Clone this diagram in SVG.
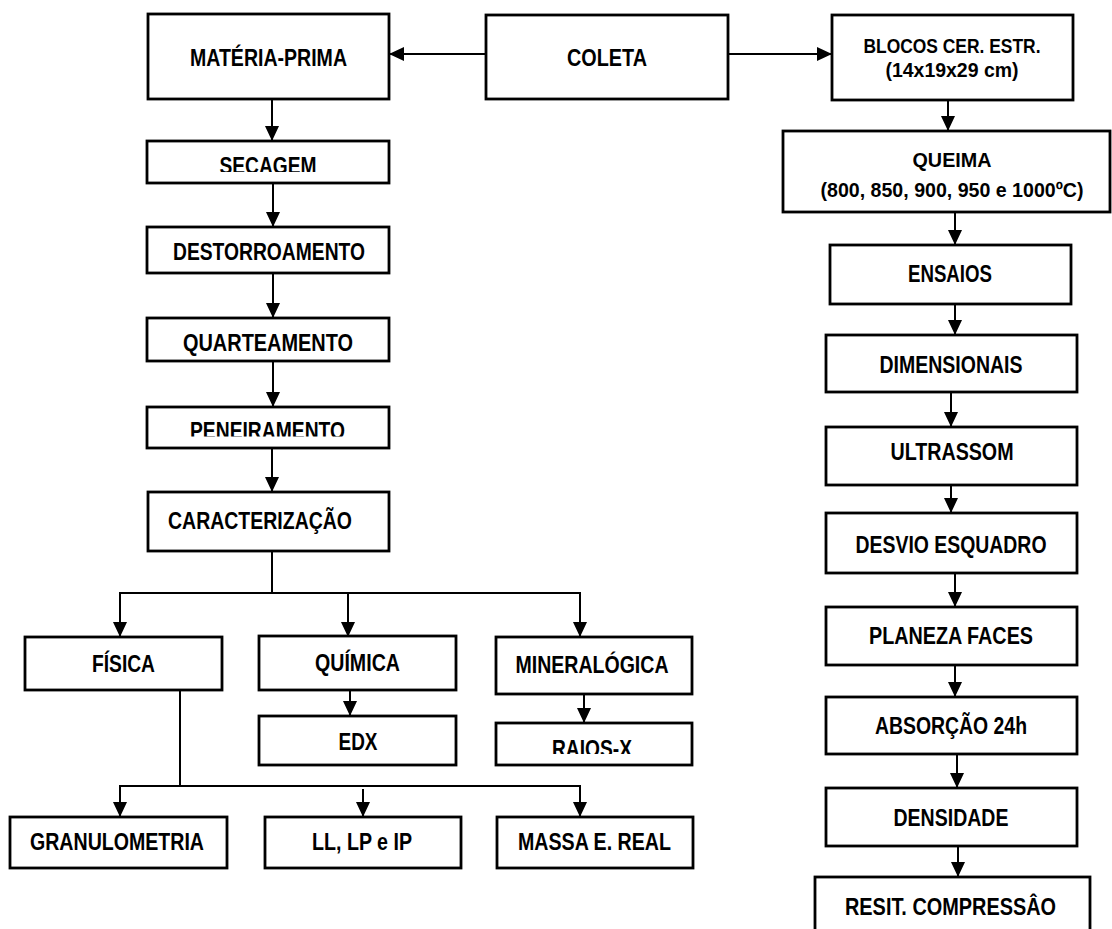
<svg xmlns="http://www.w3.org/2000/svg" width="1112" height="929" viewBox="0 0 1112 929">
<style>
.b{fill:#fff;stroke:#000;stroke-width:2.8}
.t{font-family:"Liberation Sans Narrow","Liberation Sans",Arial,sans-serif;font-weight:bold;font-size:23px;fill:#000;text-anchor:middle}
.s{font-size:21px}
.c{fill:none;stroke:#000;stroke-width:2}
</style>
<defs>
<marker id="ah" markerUnits="userSpaceOnUse" markerWidth="16" markerHeight="16" refX="15" refY="7.5" orient="auto">
<path d="M0,0.5 L15,7.5 L0,14.5 z" fill="#000"/>
</marker>
<clipPath id="cSec"><rect x="140" y="140" width="260" height="32"/></clipPath>
<clipPath id="cPen"><rect x="140" y="405" width="260" height="31.5"/></clipPath>
<clipPath id="cRai"><rect x="490" y="720" width="210" height="34"/></clipPath>
</defs>
<rect width="1112" height="929" fill="#fff"/>

<g id="connectors">
<line class="c" x1="486" y1="54" x2="389" y2="54" marker-end="url(#ah)"/>
<line class="c" x1="728" y1="54" x2="832" y2="54" marker-end="url(#ah)"/>
<line class="c" x1="272" y1="99" x2="272" y2="141" marker-end="url(#ah)"/>
<line class="c" x1="273" y1="183" x2="273" y2="227" marker-end="url(#ah)"/>
<line class="c" x1="273" y1="273" x2="273" y2="318" marker-end="url(#ah)"/>
<line class="c" x1="273" y1="361" x2="273" y2="407" marker-end="url(#ah)"/>
<line class="c" x1="272" y1="448" x2="272" y2="492" marker-end="url(#ah)"/>
<polyline class="c" points="272,551 272,593"/>
<line class="c" x1="119" y1="593" x2="581" y2="593"/>
<line class="c" x1="120" y1="593" x2="120" y2="637" marker-end="url(#ah)"/>
<line class="c" x1="348" y1="593" x2="348" y2="637" marker-end="url(#ah)"/>
<line class="c" x1="580" y1="593" x2="580" y2="637" marker-end="url(#ah)"/>
<line class="c" x1="350" y1="690" x2="350" y2="716" marker-end="url(#ah)"/>
<line class="c" x1="584" y1="694" x2="584" y2="723" marker-end="url(#ah)"/>
<polyline class="c" points="180,690 180,786"/>
<line class="c" x1="119" y1="786" x2="581" y2="786"/>
<line class="c" x1="120" y1="786" x2="120" y2="817" marker-end="url(#ah)"/>
<line class="c" x1="363" y1="789" x2="363" y2="817" marker-end="url(#ah)"/>
<line class="c" x1="580" y1="786" x2="580" y2="817" marker-end="url(#ah)"/>
<line class="c" x1="948" y1="100" x2="948" y2="131" marker-end="url(#ah)"/>
<line class="c" x1="955" y1="212" x2="955" y2="245" marker-end="url(#ah)"/>
<line class="c" x1="955" y1="304" x2="955" y2="335" marker-end="url(#ah)"/>
<line class="c" x1="951" y1="392" x2="951" y2="427" marker-end="url(#ah)"/>
<line class="c" x1="951" y1="485" x2="951" y2="513" marker-end="url(#ah)"/>
<line class="c" x1="955" y1="573" x2="955" y2="607" marker-end="url(#ah)"/>
<line class="c" x1="955" y1="665" x2="955" y2="697" marker-end="url(#ah)"/>
<line class="c" x1="957" y1="754" x2="957" y2="788" marker-end="url(#ah)"/>
<line class="c" x1="958" y1="846" x2="958" y2="877" marker-end="url(#ah)"/>
</g>

<g id="materia-prima"><rect class="b" x="148" y="14" width="241" height="85"/><text class="t" x="268.5" y="66" textLength="157" lengthAdjust="spacingAndGlyphs">MATÉRIA-PRIMA</text></g>
<g id="coleta"><rect class="b" x="486" y="15" width="242" height="84"/><text class="t" x="607" y="66" textLength="80" lengthAdjust="spacingAndGlyphs">COLETA</text></g>
<g id="blocos"><rect class="b" x="832" y="15" width="241" height="85"/><text class="t s" x="952" y="53" textLength="177" lengthAdjust="spacingAndGlyphs">BLOCOS CER. ESTR.</text><text class="t s" x="952" y="77" textLength="133" lengthAdjust="spacingAndGlyphs">(14x19x29 cm)</text></g>
<g id="queima"><rect class="b" x="783" y="131" width="327" height="81"/><text class="t s" x="952" y="167" textLength="79" lengthAdjust="spacingAndGlyphs">QUEIMA</text><text class="t s" x="952" y="197" textLength="263" lengthAdjust="spacingAndGlyphs">(800, 850, 900, 950 e 1000ºC)</text></g>

<g id="secagem"><rect class="b" x="147" y="141" width="242" height="42"/><text class="t" x="268" y="173.5" textLength="97" lengthAdjust="spacingAndGlyphs" clip-path="url(#cSec)">SECAGEM</text></g>
<g id="destorroamento"><rect class="b" x="147" y="227" width="242" height="46"/><text class="t" x="269" y="260" textLength="192" lengthAdjust="spacingAndGlyphs">DESTORROAMENTO</text></g>
<g id="quarteamento"><rect class="b" x="147" y="318" width="242" height="43"/><text class="t" x="268" y="350.5" textLength="170" lengthAdjust="spacingAndGlyphs">QUARTEAMENTO</text></g>
<g id="peneiramento"><rect class="b" x="147" y="407" width="242" height="41"/><text class="t" x="267.5" y="438.5" textLength="155" lengthAdjust="spacingAndGlyphs" clip-path="url(#cPen)">PENEIRAMENTO</text></g>
<g id="caracterizacao"><rect class="b" x="148" y="492" width="241" height="59"/><text class="t" x="260" y="529" textLength="184" lengthAdjust="spacingAndGlyphs">CARACTERIZAÇÃO</text></g>

<g id="fisica"><rect class="b" x="25" y="637" width="197" height="53"/><text class="t" x="123.5" y="672" textLength="63" lengthAdjust="spacingAndGlyphs">FÍSICA</text></g>
<g id="quimica"><rect class="b" x="259" y="636" width="197" height="54"/><text class="t" x="357.5" y="671" textLength="85" lengthAdjust="spacingAndGlyphs">QUÍMICA</text></g>
<g id="mineralogica"><rect class="b" x="496" y="637" width="196" height="57"/><text class="t" x="592" y="673" textLength="153" lengthAdjust="spacingAndGlyphs">MINERALÓGICA</text></g>
<g id="edx"><rect class="b" x="259" y="716" width="197" height="49"/><text class="t" x="358" y="750" textLength="39" lengthAdjust="spacingAndGlyphs">EDX</text></g>
<g id="raios-x"><rect class="b" x="496" y="723" width="196" height="42"/><text class="t" x="592" y="756.5" textLength="80" lengthAdjust="spacingAndGlyphs" clip-path="url(#cRai)">RAIOS-X</text></g>

<g id="granulometria"><rect class="b" x="10" y="817" width="217" height="51"/><text class="t" x="117" y="850" textLength="174" lengthAdjust="spacingAndGlyphs">GRANULOMETRIA</text></g>
<g id="ll-lp-ip"><rect class="b" x="265" y="817" width="196" height="51"/><text class="t" x="362" y="850" textLength="100" lengthAdjust="spacingAndGlyphs">LL, LP e IP</text></g>
<g id="massa-e-real"><rect class="b" x="497" y="817" width="196" height="51"/><text class="t" x="594.5" y="850" textLength="153" lengthAdjust="spacingAndGlyphs">MASSA E. REAL</text></g>

<g id="ensaios"><rect class="b" x="830" y="245" width="241" height="59"/><text class="t" x="950" y="282" textLength="84" lengthAdjust="spacingAndGlyphs">ENSAIOS</text></g>
<g id="dimensionais"><rect class="b" x="826" y="335" width="251" height="57"/><text class="t" x="951" y="373" textLength="143" lengthAdjust="spacingAndGlyphs">DIMENSIONAIS</text></g>
<g id="ultrassom"><rect class="b" x="826" y="427" width="251" height="58"/><text class="t" x="952" y="460" textLength="123" lengthAdjust="spacingAndGlyphs">ULTRASSOM</text></g>
<g id="desvio-esquadro"><rect class="b" x="826" y="513" width="251" height="60"/><text class="t" x="951" y="553" textLength="191" lengthAdjust="spacingAndGlyphs">DESVIO ESQUADRO</text></g>
<g id="planeza-faces"><rect class="b" x="826" y="607" width="251" height="58"/><text class="t" x="951" y="644" textLength="164" lengthAdjust="spacingAndGlyphs">PLANEZA FACES</text></g>
<g id="absorcao"><rect class="b" x="826" y="697" width="251" height="57"/><text class="t" x="951" y="734" textLength="152" lengthAdjust="spacingAndGlyphs">ABSORÇÃO 24h</text></g>
<g id="densidade"><rect class="b" x="826" y="788" width="251" height="58"/><text class="t" x="951" y="826" textLength="115" lengthAdjust="spacingAndGlyphs">DENSIDADE</text></g>
<g id="resit-compressao"><rect class="b" x="815" y="877" width="275" height="60"/><text class="t" x="950.5" y="915" textLength="211" lengthAdjust="spacingAndGlyphs">RESIT. COMPRESSÂO</text></g>
</svg>
